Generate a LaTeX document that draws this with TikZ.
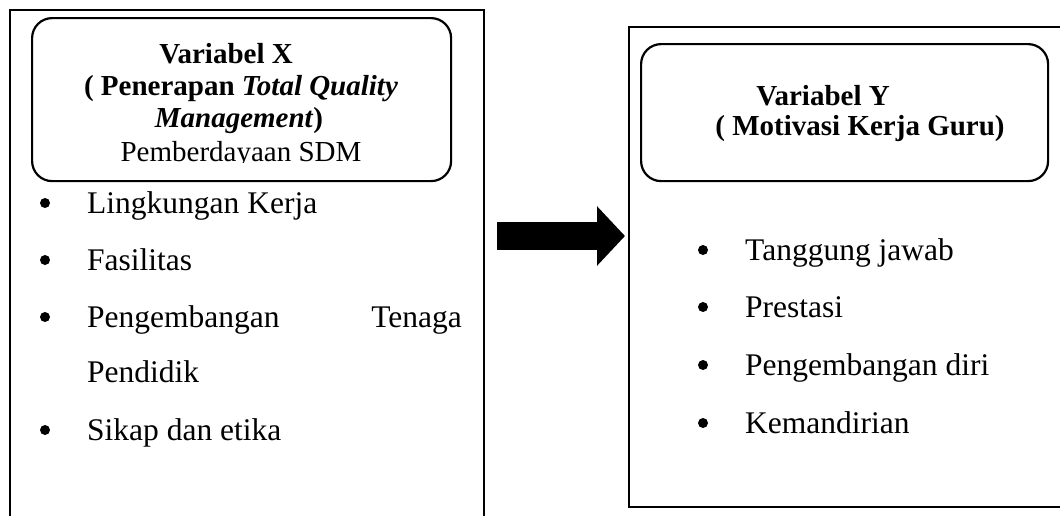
\documentclass[tikz,border=0pt]{standalone}
\usepackage{fontspec}
\setmainfont{Liberation Serif}
\usetikzlibrary{arrows.meta}
\begin{document}
\begin{tikzpicture}[x=1pt,y=-1pt,
  frame/.style={draw,line width=2pt,inner sep=0pt,anchor=north west},
  rbox/.style={draw,line width=2.2pt,rounded corners=20pt,inner sep=0pt,anchor=north west},
  ttl/.style={anchor=base,inner sep=0pt,font=\fontsize{29}{32}\selectfont\bfseries},
  sub/.style={anchor=base,inner sep=0pt,font=\fontsize{29}{32}\selectfont},
  item/.style={anchor=base west,inner sep=0pt,font=\fontsize{31.5}{38}\selectfont},
  dot/.style={circle,fill=black,inner sep=0pt,minimum size=10pt},
  bigarrow/.style={line width=28pt,-{Triangle[length=28pt,width=58pt]}}]
\useasboundingbox (0,0) rectangle (1060,515);
\clip (0,0) rectangle (1060,515);
% outer frames
\node[frame,minimum width=474pt,minimum height=620pt] (X) at (9,9) {};
\node[frame,minimum width=480pt,minimum height=480pt] (Y) at (628,26) {};
% title boxes
\node[rbox,minimum width=419pt,minimum height=163pt] (XT) at (31,17) {};
\node[rbox,minimum width=407pt,minimum height=137pt] (YT) at (640,43) {};
% left title
\node[ttl] (x1) at (226,63) {Variabel X};
\node[ttl] (x2) at (241,95) {( Penerapan \textit{Total Quality}};
\node[ttl] (x3) at (239,127) {\textit{Management})};
\begin{scope}
\clip (31,17) rectangle (450,162);
\node[sub] (x4) at (241,161) {Pemberdayaan SDM};
\end{scope}
% right title
\node[ttl] (y1) at (823,105) {Variabel Y};
\node[ttl] (y2) at (860,135) {( Motivasi Kerja Guru)};
% left items
\node[dot] (lb1) at (45,203) {};
\node[item] (l1) at (87,213) {Lingkungan Kerja};
\node[dot] (lb2) at (45,260) {};
\node[item] (l2) at (87,270) {Fasilitas};
\node[dot] (lb3) at (45,317) {};
\node[item] (l3) at (87,327) {Pengembangan};
\node[item,anchor=base east] (l3b) at (462,327) {Tenaga};
\node[item] (l3c) at (87,382) {Pendidik};
\node[dot] (lb4) at (45,430) {};
\node[item] (l4) at (87,440) {Sikap dan etika};
% right items
\node[dot] (rb1) at (703,250) {};
\node[item] (r1) at (745,260) {Tanggung jawab};
\node[dot] (rb2) at (703,307) {};
\node[item] (r2) at (745,317) {Prestasi};
\node[dot] (rb3) at (703,365) {};
\node[item] (r3) at (745,375) {Pengembangan diri};
\node[dot] (rb4) at (703,423) {};
\node[item] (r4) at (745,433) {Kemandirian};
% arrow
\coordinate (aS) at ([xshift=12pt]X.north east |- 0,236);
\coordinate (aE) at ([xshift=-3pt]Y.north west |- 0,236);
\draw[bigarrow] (aS) -- (aE);
\end{tikzpicture}
\end{document}
